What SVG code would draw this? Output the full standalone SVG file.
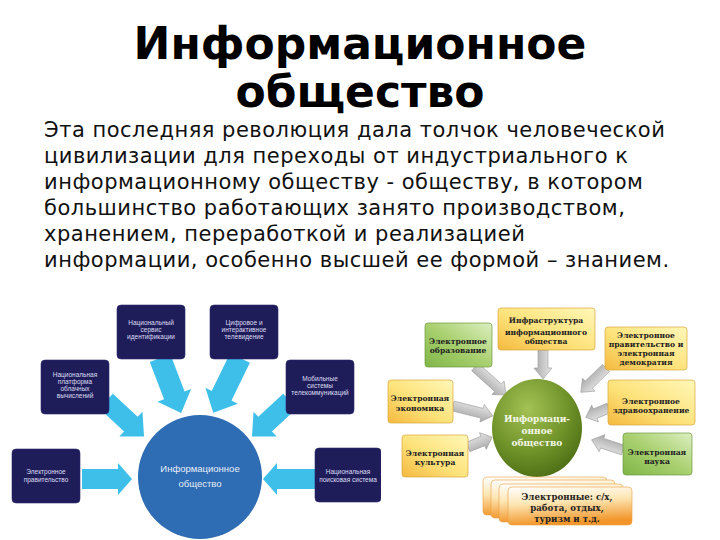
<svg xmlns="http://www.w3.org/2000/svg" width="720" height="540" viewBox="0 0 720 540">
<style>
.title{font-family:"DejaVu Sans",sans-serif;font-weight:bold;font-size:44px;fill:#000;text-anchor:middle}
.para{font-family:"DejaVu Sans",sans-serif;font-size:21px;letter-spacing:0.5px;fill:#111}
.bt{font-family:"Liberation Sans",Arial,sans-serif;font-size:6.5px;fill:#dcdcf2;text-anchor:middle}
.ct{font-family:"Liberation Sans",Arial,sans-serif;font-size:9.5px;fill:#e8eef8;text-anchor:middle}
.nbox{fill:#1f1c5a;stroke:#2a2870;stroke-width:0.6}
.barrow{fill:#3dbfea}
.gt{font-family:"DejaVu Serif",serif;font-weight:bold;font-size:7.6px;fill:#222;text-anchor:middle}
.gc{font-family:"DejaVu Serif",serif;font-weight:bold;font-size:9px;fill:#f4f8e8;text-anchor:middle}
.ybox{fill:url(#yg);stroke:#d8a63c;stroke-width:0.7}
.grbox{fill:url(#gg);stroke:#6e9a3c;stroke-width:0.7}
.garrow{fill:url(#ag);stroke:#9a9a9a;stroke-width:0.6}
.card{fill:url(#og);stroke:#e9a040;stroke-width:0.6}
</style>
<defs>
<linearGradient id="yg" x1="0" y1="1" x2="1" y2="0">
<stop offset="0" stop-color="#f4b93e"/>
<stop offset="0.45" stop-color="#fde27a"/>
<stop offset="1" stop-color="#fff7b8"/>
</linearGradient>
<linearGradient id="gg" x1="0" y1="1" x2="1" y2="0">
<stop offset="0" stop-color="#7fb648"/>
<stop offset="0.5" stop-color="#a9d06f"/>
<stop offset="1" stop-color="#dcefc0"/>
</linearGradient>
<radialGradient id="cg" cx="0.4" cy="0.3" r="0.75">
<stop offset="0" stop-color="#a4c255"/>
<stop offset="0.6" stop-color="#6f9229"/>
<stop offset="1" stop-color="#4c6d14"/>
</radialGradient>
<linearGradient id="ag" x1="0" y1="0" x2="0" y2="1">
<stop offset="0" stop-color="#e8e8e8"/>
<stop offset="1" stop-color="#a8a8a8"/>
</linearGradient>
<linearGradient id="og" x1="0" y1="0" x2="0.2" y2="1">
<stop offset="0" stop-color="#ffffff"/>
<stop offset="0.45" stop-color="#fde6b4"/>
<stop offset="1" stop-color="#f2962a"/>
</linearGradient>
<clipPath id="lc"><rect x="0" y="290" width="381" height="250"/></clipPath>
</defs>

<g id="title">
<text class="title" x="360" y="59">Информационное</text>
<text class="title" x="360" y="107">общество</text>
</g>
<g id="paragraph">
<text class="para" x="44" y="137">Эта последняя революция дала толчок человеческой</text>
<text class="para" x="44" y="163">цивилизации для переходы от индустриального к</text>
<text class="para" x="44" y="189">информационному обществу - обществу, в котором</text>
<text class="para" x="44" y="215">большинство работающих занято производством,</text>
<text class="para" x="44" y="241">хранением, переработкой и реализацией</text>
<text class="para" x="44" y="267">информации, особенно высшей ее формой – знанием.</text>
</g>

<g id="left-diagram" clip-path="url(#lc)">
<g id="left-connectors">
<path class="barrow" transform="translate(82,479)" d="M0,-10H36V-16L50,0L36,16V10H0Z"/>
<path class="barrow" transform="translate(315,479) rotate(180)" d="M0,-10H38V-16L52,0L38,16V10H0Z"/>
<path class="barrow" transform="translate(160,358) rotate(69)" d="M0,-11H40V-18L59,0L40,18V11H0Z"/>
<path class="barrow" transform="translate(240,358) rotate(116)" d="M0,-11H42V-18L61,0L42,18V11H0Z"/>
<path class="barrow" transform="translate(106,401) rotate(43)" d="M0,-10H34V-17L52,0L34,17V10H0Z"/>
<path class="barrow" transform="translate(290,401) rotate(137)" d="M0,-10H34V-17L52,0L34,17V10H0Z"/>
</g>
<g id="l-center">
<circle cx="200" cy="477" r="62" fill="#2e6cb4"/>
<text class="ct" x="200" y="472">Информационное</text>
<text class="ct" x="200" y="487">общество</text>
</g>
<g id="l-servis">
<rect class="nbox" x="117" y="305" width="68" height="54" rx="4"/>
<text class="bt" x="151" y="325">Национальный</text>
<text class="bt" x="151" y="332">сервис</text>
<text class="bt" x="151" y="339">идентификации</text>
</g>
<g id="l-tv">
<rect class="nbox" x="210" y="305" width="68" height="54" rx="4"/>
<text class="bt" x="244" y="325">Цифровое и</text>
<text class="bt" x="244" y="332">интерактивное</text>
<text class="bt" x="244" y="339">телевидение</text>
</g>
<g id="l-platform">
<rect class="nbox" x="41" y="360" width="68" height="54" rx="4"/>
<text class="bt" x="75" y="377">Национальная</text>
<text class="bt" x="75" y="384">платформа</text>
<text class="bt" x="75" y="391">облачных</text>
<text class="bt" x="75" y="398">вычислений</text>
</g>
<g id="l-mobile">
<rect class="nbox" x="286" y="360" width="68" height="54" rx="4"/>
<text class="bt" x="320" y="381">Мобильные</text>
<text class="bt" x="320" y="388">системы</text>
<text class="bt" x="320" y="395">телекоммуникаций</text>
</g>
<g id="l-gov">
<rect class="nbox" x="12" y="449" width="68" height="54" rx="4"/>
<text class="bt" x="46" y="474">Электронное</text>
<text class="bt" x="46" y="482">правительство</text>
</g>
<g id="l-search">
<rect class="nbox" x="315" y="448" width="66" height="54" rx="4"/>
<text class="bt" x="348" y="474">Национальная</text>
<text class="bt" x="348" y="482">поисковая система</text>
</g>
</g>

<g id="right-diagram">
<g id="right-connectors">
<path class="garrow" transform="translate(543,350) rotate(90)" d="M0,-5H18V-9L29,0L18,9V5H0Z"/>
<path class="garrow" transform="translate(475,367) rotate(42)" d="M0,-5H31V-9L42,0L31,9V5H0Z"/>
<path class="garrow" transform="translate(606,368) rotate(136)" d="M0,-5H24V-9L35,0L24,9V5H0Z"/>
<path class="garrow" transform="translate(453,406) rotate(14)" d="M0,-5H30V-9L41,0L30,9V5H0Z"/>
<path class="garrow" transform="translate(609,408) rotate(158)" d="M0,-5H15V-9L25,0L15,9V5H0Z"/>
<path class="garrow" transform="translate(468,447) rotate(-22)" d="M0,-5H16V-9L26,0L16,9V5H0Z"/>
<path class="garrow" transform="translate(623,450) rotate(198)" d="M0,-5H22V-9L33,0L22,9V5H0Z"/>
</g>
<g id="r-center">
<ellipse cx="537" cy="428" rx="45" ry="49" fill="url(#cg)"/>
<text class="gc" x="537" y="422">Информаци-</text>
<text class="gc" x="537" y="434">онное</text>
<text class="gc" x="537" y="446">общество</text>
</g>
<g id="r-infra">
<rect class="ybox" x="498" y="308" width="97" height="42" rx="3"/>
<text class="gt" x="546" y="323">Инфраструктура</text>
<text class="gt" x="546" y="335">информационного</text>
<text class="gt" x="546" y="344">общества</text>
</g>
<g id="r-edu">
<rect class="grbox" x="425" y="323" width="67" height="44" rx="3"/>
<text class="gt" x="458" y="344">Электронное</text>
<text class="gt" x="458" y="353">образование</text>
</g>
<g id="r-gov">
<rect class="ybox" x="605" y="327" width="82" height="43" rx="3"/>
<text class="gt" x="646" y="338">Электронное</text>
<text class="gt" x="646" y="347">правительство и</text>
<text class="gt" x="646" y="356">электронная</text>
<text class="gt" x="646" y="365">демократия</text>
</g>
<g id="r-econ">
<rect class="ybox" x="388" y="380" width="65" height="43" rx="3"/>
<text class="gt" x="420" y="401">Электронная</text>
<text class="gt" x="420" y="411">экономика</text>
</g>
<g id="r-health">
<rect class="ybox" x="608" y="380" width="87" height="45" rx="3"/>
<text class="gt" x="651" y="404">Электронное</text>
<text class="gt" x="651" y="413">здравоохранение</text>
</g>
<g id="r-culture">
<rect class="ybox" x="402" y="435" width="66" height="42" rx="3"/>
<text class="gt" x="435" y="456">Электронная</text>
<text class="gt" x="435" y="465">культура</text>
</g>
<g id="r-science">
<rect class="grbox" x="623" y="433" width="69" height="42" rx="3"/>
<text class="gt" x="657" y="455">Электронная</text>
<text class="gt" x="657" y="464">наука</text>
</g>
<g id="r-cards">
<rect class="card" x="483" y="477" width="124" height="38" rx="4"/>
<rect class="card" x="491" y="480" width="124" height="38" rx="4"/>
<rect class="card" x="499" y="484" width="124" height="38" rx="4"/>
<rect class="card" x="508" y="487" width="124" height="38" rx="4"/>
<text class="gt" x="567" y="500" style="font-size:8.6px">Электронные: с/х,</text>
<text class="gt" x="567" y="511" style="font-size:8.6px">работа, отдых,</text>
<text class="gt" x="567" y="522" style="font-size:8.6px">туризм и т.д.</text>
</g>
</g>
</svg>
